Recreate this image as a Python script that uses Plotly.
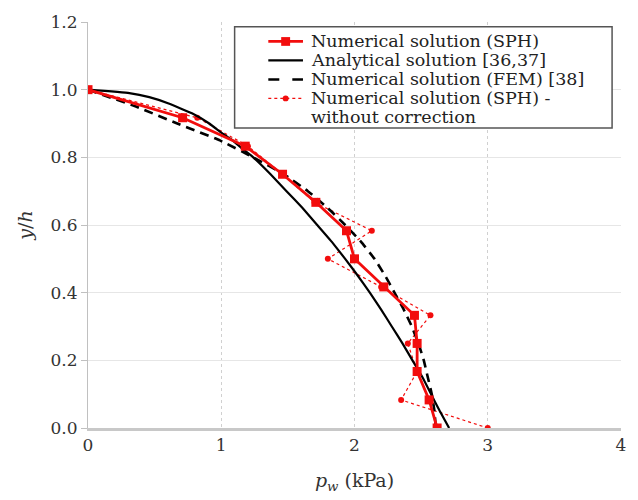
import plotly.graph_objects as go

# y/h levels for the SPH series
y_sph = [1.0, 0.917, 0.833, 0.75, 0.667, 0.583, 0.5, 0.417, 0.333, 0.25, 0.167, 0.083, 0.0]
x_sph = [0.0, 0.71, 1.18, 1.46, 1.71, 1.94, 2.0, 2.22, 2.45, 2.47, 2.47, 2.56, 2.62]
x_sph_nocorr = [0.0, 0.82, 1.20, 1.46, 1.70, 2.13, 1.80, 2.20, 2.57, 2.40, 2.47, 2.35, 3.0]

# Analytical solution
y_ana = [1.0, 0.99, 0.978, 0.96, 0.93, 0.90, 0.873, 0.85, 0.825, 0.80, 0.75, 0.70, 0.65,
         0.60, 0.55, 0.50, 0.45, 0.40, 0.35, 0.30, 0.25, 0.20, 0.15, 0.10, 0.05, 0.0]
x_ana = [0.0, 0.31, 0.46, 0.60, 0.78, 0.91, 1.00, 1.085, 1.16, 1.24, 1.37, 1.49, 1.61,
         1.72, 1.83, 1.93, 2.025, 2.115, 2.20, 2.28, 2.36, 2.435, 2.51, 2.575, 2.64, 2.71]

# FEM solution
y_fem = [1.0, 0.95, 0.90, 0.85, 0.80, 0.75, 0.70, 0.65, 0.60, 0.55, 0.50,
         0.45, 0.40, 0.35, 0.30, 0.25, 0.20, 0.15, 0.10, 0.05, 0.0]
x_fem = [0.0, 0.36, 0.67, 0.99, 1.24, 1.47, 1.65, 1.80, 1.93, 2.05, 2.15,
         2.23, 2.30, 2.37, 2.43, 2.48, 2.52, 2.55, 2.58, 2.60, 2.61]

x_ticks = [0, 1, 2, 3, 4]
y_ticks = [0.0, 0.2, 0.4, 0.6, 0.8, 1.0, 1.2]
y_tick_labels = ["0.0", "0.2", "0.4", "0.6", "0.8", "1.0", "1.2"]

legend_labels = ["Numerical solution (SPH)", "Analytical solution [36,37]",
                 "Numerical solution (FEM) [38]", "Numerical solution (SPH) -",
                 "without correction"]

RED = "#f20d0d"
FONT = "DejaVu Serif"
TXT = "#333333"

fig = go.Figure()
fig.add_trace(go.Scatter(
    x=x_sph_nocorr, y=y_sph, mode="lines+markers",
    name="Numerical solution (SPH) - without correction",
    line=dict(color=RED, width=1.2, dash="3px,3px"),
    marker=dict(symbol="circle", size=6, color=RED),
))
fig.add_trace(go.Scatter(
    x=x_ana, y=y_ana, mode="lines", name="Analytical solution [36,37]",
    line=dict(color="black", width=2.2, shape="spline", smoothing=0.3),
))
fig.add_trace(go.Scatter(
    x=x_fem, y=y_fem, mode="lines", name="Numerical solution (FEM) [38]",
    line=dict(color="black", width=2.6, dash="9px,6px", shape="spline", smoothing=0.3),
))
fig.add_trace(go.Scatter(
    x=x_sph, y=y_sph, mode="lines+markers", name="Numerical solution (SPH)",
    line=dict(color=RED, width=2.8),
    marker=dict(symbol="square", size=9, color=RED),
))

# pixel -> paper helpers (plot area)
L, R, T, B = 88, 626, 13, 430
def px(xp):
    return (xp - L) / (R - L)
def py(yp):
    return (B - yp) / (B - T)

# legend frame
fig.add_shape(type="rect", xref="paper", yref="paper",
              x0=px(236), x1=px(617), y0=py(122), y1=py(18),
              fillcolor="white", line=dict(color="#555555", width=1.5), layer="above")

rows = [33, 52.5, 72, 91.5, 111]
sx0, sx1 = 270, 305
sxc = (sx0 + sx1) / 2
# legend symbols
fig.add_shape(type="line", xref="paper", yref="paper", x0=px(sx0), x1=px(sx1),
              y0=py(rows[0]), y1=py(rows[0]), line=dict(color=RED, width=2.8), layer="above")
fig.add_shape(type="rect", xref="paper", yref="paper", x0=px(sxc - 4.5), x1=px(sxc + 4.5),
              y0=py(rows[0] + 4.5), y1=py(rows[0] - 4.5), fillcolor=RED,
              line=dict(width=0), layer="above")
fig.add_shape(type="line", xref="paper", yref="paper", x0=px(sx0), x1=px(sx1),
              y0=py(rows[1]), y1=py(rows[1]), line=dict(color="black", width=2.2), layer="above")
fig.add_shape(type="line", xref="paper", yref="paper", x0=px(sx0), x1=px(sx1),
              y0=py(rows[2]), y1=py(rows[2]), line=dict(color="black", width=2.6, dash="11px,13px"),
              layer="above")
fig.add_shape(type="line", xref="paper", yref="paper", x0=px(sx0), x1=px(sx1),
              y0=py(rows[3]), y1=py(rows[3]), line=dict(color=RED, width=1.2, dash="3px,3px"),
              layer="above")
fig.add_shape(type="circle", xref="paper", yref="paper", x0=px(sxc - 3), x1=px(sxc + 3),
              y0=py(rows[3] + 3), y1=py(rows[3] - 3), fillcolor=RED,
              line=dict(width=0), layer="above")

for lab, r in zip(legend_labels, rows):
    fig.add_annotation(text=lab, xref="paper", yref="paper", x=px(312), y=py(r),
                       xanchor="left", yanchor="middle", showarrow=False, borderpad=0,
                       font=dict(family=FONT, size=17.5, color="#222222"))

fig.update_layout(
    width=638, height=500,
    margin=dict(l=L, r=638 - R, t=T, b=500 - B),
    plot_bgcolor="white", paper_bgcolor="white",
    font=dict(family=FONT, size=17, color=TXT),
    showlegend=False,
)
fig.update_xaxes(
    range=[0, 4], tickvals=x_ticks, ticktext=[str(v) for v in x_ticks],
    showgrid=True, gridcolor="#d0d0d0", griddash="dot", gridwidth=1,
    showline=True, linecolor="#c8c8c8", linewidth=2.5,
    ticks="", zeroline=False,
    tickfont=dict(family=FONT, size=17, color=TXT),
    title=dict(text="<i>p<sub>w</sub></i> (kPa)", font=dict(family=FONT, size=19, color=TXT), standoff=20),
)
fig.update_yaxes(
    range=[0, 1.2], tickvals=y_ticks, ticktext=y_tick_labels,
    showgrid=True, gridcolor="#e6e6e6", gridwidth=1,
    showline=True, linecolor="#c0c0c0", linewidth=1,
    ticks="outside", ticklen=6, tickcolor="#c0c0c0", zeroline=False,
    tickfont=dict(family=FONT, size=17, color=TXT),
    title=dict(text="<i>y</i>/<i>h</i>", font=dict(family=FONT, size=19, color=TXT), standoff=12),
)

fig.write_html("out.html")
